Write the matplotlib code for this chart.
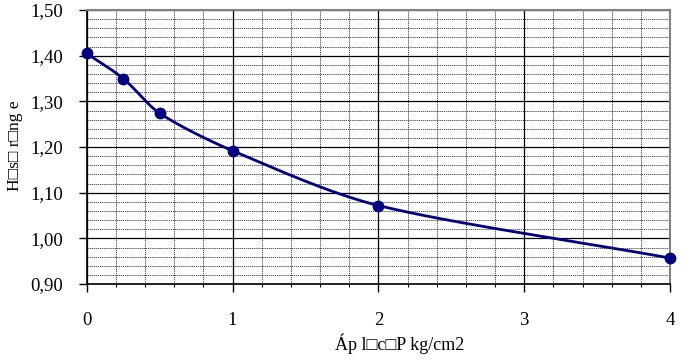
import numpy as np
import matplotlib
matplotlib.use("Agg")
import matplotlib.pyplot as plt
from matplotlib.ticker import MultipleLocator, FuncFormatter

# Pressure (kg/cm2) and void ratio e
pressure = [0, 0.25, 0.5, 1, 2, 4]
void_ratio = [1.405, 1.350, 1.274, 1.192, 1.072, 0.957]

x_label = "Áp l\u25a1c\u25a1P kg/cm2"
y_label = "H\u25a1s\u25a1 r\u25a1ng e"

FONT = ["Liberation Serif", "DejaVu Sans"]
PX = 72 / 100  # points per pixel at 100 dpi


def smooth_curve(xs, ys, n=40):
    """Cubic Hermite smoothing through the given points (display only)."""
    xs = np.asarray(xs, float)
    ys = np.asarray(ys, float)
    px = np.concatenate([[2 * xs[0] - xs[1]], xs, [2 * xs[-1] - xs[-2]]])
    py = np.concatenate([[2 * ys[0] - ys[1]], ys, [2 * ys[-1] - ys[-2]]])
    out_x, out_y = [], []
    t = np.linspace(0, 1, n)
    for i in range(1, len(px) - 2):
        p0, p1, p2, p3 = [np.array([px[j], py[j]]) for j in range(i - 1, i + 3)]
        m1 = (p2 - p0) / 2
        m2 = (p3 - p1) / 2
        h = p2 - p1
        # keep the curve monotonic in x
        m1 = m1 * min(1.0, abs(h[0]) / max(abs(m1[0]), 1e-9))
        m2 = m2 * min(1.0, abs(h[0]) / max(abs(m2[0]), 1e-9))
        h00 = 2 * t**3 - 3 * t**2 + 1
        h10 = t**3 - 2 * t**2 + t
        h01 = -2 * t**3 + 3 * t**2
        h11 = t**3 - t**2
        seg = (np.outer(h00, p1) + np.outer(h10, m1)
               + np.outer(h01, p2) + np.outer(h11, m2))
        out_x.extend(seg[:, 0])
        out_y.extend(seg[:, 1])
    return np.array(out_x), np.array(out_y)


fig = plt.figure(figsize=(6.83, 3.60), dpi=100)
ax = fig.add_axes([0.127, 0.211, 0.854, 0.761])

ax.set_xlim(0, 4)
ax.set_ylim(0.90, 1.50)

ax.xaxis.set_major_locator(MultipleLocator(1))
ax.xaxis.set_minor_locator(MultipleLocator(0.2))
ax.yaxis.set_major_locator(MultipleLocator(0.1))
ax.yaxis.set_minor_locator(MultipleLocator(0.02))

ax.grid(which="major", color="black", linewidth=0.9, linestyle="-")
ax.grid(which="minor", color="#333333", linewidth=0.6, linestyle=(0, (1.5, 1)))
ax.set_axisbelow(True)

sx, sy = smooth_curve(pressure, void_ratio)
ax.plot(sx, sy, color="#000080", linewidth=2.0, zorder=3, clip_on=False)
ax.plot(pressure, void_ratio, linestyle="none", marker="o", markersize=7.5,
        color="#000080", zorder=4, clip_on=False)

ax.yaxis.set_major_formatter(FuncFormatter(lambda v, p: f"{v:.2f}".replace(".", ",")))
ax.xaxis.set_major_formatter(FuncFormatter(lambda v, p: f"{v:g}"))

ax.tick_params(axis="x", which="major", direction="out", length=8 * PX, width=1,
               pad=20 * PX, labelsize=13.5)
ax.tick_params(axis="x", which="minor", direction="out", length=3 * PX, width=0.8)
ax.tick_params(axis="y", which="major", direction="out", length=8 * PX, width=1,
               pad=16 * PX, labelsize=13.5)
ax.tick_params(axis="y", which="minor", length=0)
for lab in ax.get_xticklabels() + ax.get_yticklabels():
    lab.set_family(FONT)

for side in ("top", "right"):
    ax.spines[side].set_color("#808080")
    ax.spines[side].set_linewidth(1.5)
for side in ("left", "bottom"):
    ax.spines[side].set_color("black")
    ax.spines[side].set_linewidth(1.2)

fig.text(400 / 683, 1 - 344 / 360, x_label, family=FONT, fontsize=13,
         ha="center", va="center")
fig.text(15 / 683, 1 - 146 / 360, y_label, family=FONT, fontsize=12.5,
         ha="center", va="center", rotation=90)

fig.savefig("out.png", dpi=100)
